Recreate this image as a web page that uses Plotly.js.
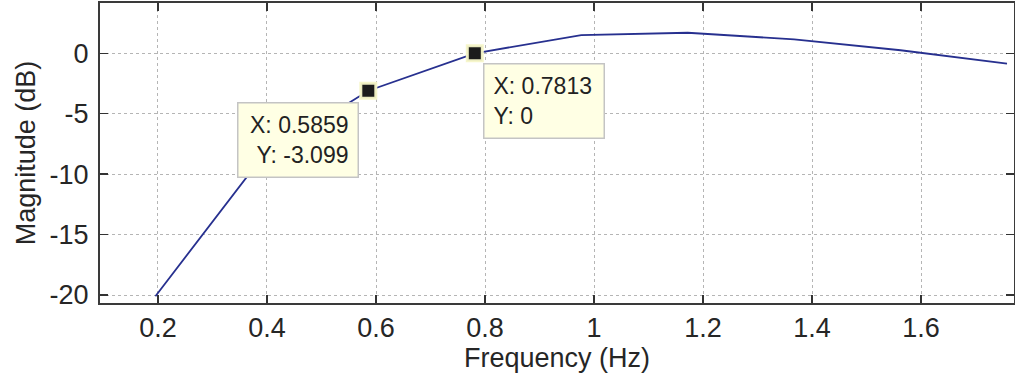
<!DOCTYPE html>
<html>
<head>
<meta charset="utf-8">
<script src="https://cdn.plot.ly/plotly-3.0.1.min.js"></script>
<style>html,body{margin:0;padding:0;background:#fff;}#chart{width:1015px;height:384px;}</style>
</head>
<body>
<div id="chart"></div>
<script>
// Frequency response data
const freq = [0.1953, 0.3906, 0.5859, 0.7813, 0.9766, 1.1719, 1.3672, 1.5625, 1.7578];
const magDb = [-20.1, -8.6, -3.099, 0, 1.5, 1.7, 1.15, 0.25, -0.85];

// Data tips
const tipX = [0.5859, 0.7813];
const tipY = [-3.099, 0];

// Tick labels
const xTickVals = [0.2, 0.4, 0.6, 0.8, 1.0, 1.2, 1.4, 1.6];
const xTickText = ['0.2', '0.4', '0.6', '0.8', '1', '1.2', '1.4', '1.6'];
const yTickVals = [-20, -15, -10, -5, 0];
const yTickText = ['-20', '-15', '-10', '-5', '0'];

const FONT = 'Liberation Sans, Arial, Helvetica, sans-serif';

const traces = [
  {
    x: freq, y: magDb, type: 'scatter', mode: 'lines',
    line: {color: '#27308f', width: 1.8},
    hoverinfo: 'skip', showlegend: false
  },
  {
    x: tipX, y: tipY, type: 'scatter', mode: 'markers',
    marker: {symbol: 'square', size: 15, color: '#1b1b1b',
             line: {color: 'rgba(245,245,200,0.95)', width: 3}},
    hoverinfo: 'skip', showlegend: false, cliponaxis: false
  }
];

const tipStyle = {
  xref: 'x', yref: 'y', showarrow: false,
  xanchor: 'left', yanchor: 'top',
  bgcolor: 'rgb(255,255,228)', bordercolor: '#c4c4c4', borderwidth: 1.5,
  borderpad: 9, width: 101, height: 55,
  font: {family: FONT, size: 23, color: '#222'}
};

const annotations = [
  Object.assign({}, tipStyle, {
    x: 0.345, y: -4.03, align: 'right',
    text: 'X: ' + tipX[0].toFixed(4) + '<br> Y: ' + tipY[0].toFixed(3)
  }),
  Object.assign({}, tipStyle, {
    x: 0.7963, y: -0.80, align: 'left',
    text: 'X: ' + tipX[1].toFixed(4) + '<br>Y: ' + String(tipY[1])
  })
];

const axisCommon = {
  showline: true, mirror: 'ticks', linecolor: '#3a3a3a', linewidth: 2,
  ticks: 'inside', ticklen: 8, tickwidth: 1.5, tickcolor: '#333',
  showgrid: true, gridcolor: '#b5b5b5', griddash: 'dot', gridwidth: 1,
  zeroline: false, tickfont: {family: FONT, size: 27, color: '#262626'}
};

const layout = {
  width: 1015, height: 384,
  margin: {l: 100, r: 1, t: 3, b: 81},
  paper_bgcolor: '#ffffff', plot_bgcolor: '#ffffff',
  font: {family: FONT, color: '#262626'},
  xaxis: Object.assign({}, axisCommon, {
    range: [0.0936, 1.7706], tickmode: 'array',
    tickvals: xTickVals, ticktext: xTickText,
    title: {text: 'Frequency (Hz)', font: {family: FONT, size: 27, color: '#262626'}, standoff: 4}
  }),
  yaxis: Object.assign({}, axisCommon, {
    range: [-20.66, 4.16], tickmode: 'array',
    tickvals: yTickVals, ticktext: yTickText, ticklabelstandoff: 4,
    title: {text: 'Magnitude (dB)', font: {family: FONT, size: 27, color: '#262626'}, standoff: 6}
  }),
  annotations: annotations,
  showlegend: false
};

Plotly.newPlot('chart', traces, layout, {displayModeBar: false, staticPlot: true});
</script>
</body>
</html>
